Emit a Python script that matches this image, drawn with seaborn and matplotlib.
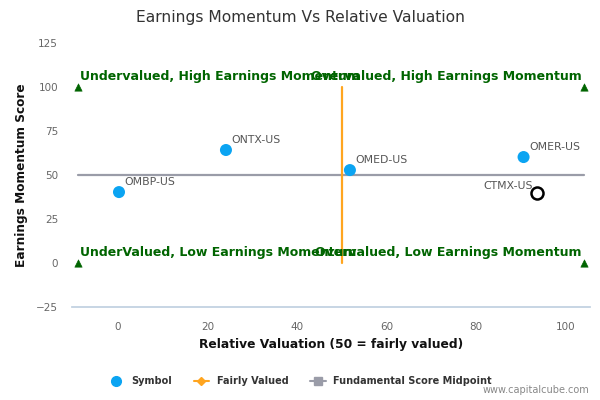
import pandas as pd
import seaborn as sns
import matplotlib.pyplot as plt
from matplotlib.lines import Line2D

# Peer symbols
symbols = ["OMBP-US", "ONTX-US", "OMED-US", "OMER-US"]
valuation = [0.2, 24.1, 51.8, 90.6]
momentum = [40.3, 64.2, 52.8, 60.2]

# Highlighted company (hollow marker)
focus_symbol = "CTMX-US"
focus_valuation = 93.7
focus_momentum = 39.8

# Reference lines
fair_x = [50, 50]
fair_y = [0, 100]
mid_x = [-9, 104]
mid_y = [50, 50]

# Quadrant corner markers
corner_x = [-9, -9, 104, 104]
corner_y = [100, 0, 100, 0]

quadrant_labels = ["Undervalued, High Earnings Momentum", "Overvalued, High Earnings Momentum",
                   "UnderValued, Low Earnings Momentum", "Overvalued, Low Earnings Momentum"]

x_ticks = [0, 20, 40, 60, 80, 100]
y_ticks = [-25, 0, 25, 50, 75, 100, 125]

sns.set_theme(style="white")
plt.rcParams["font.family"] = ["DejaVu Sans"]

blue = "#0ba4f2"
orange = "#ffa51f"
grey = "#9a9ca8"
green = "#006400"

fig = plt.figure(figsize=(6, 4), dpi=100)
ax = fig.add_axes([0.12, 0.2325, 0.863, 0.66])

pts = pd.DataFrame({"symbol": symbols, "x": valuation, "y": momentum})

sns.lineplot(x=mid_x, y=mid_y, color=grey, linewidth=1.6, ax=ax, zorder=1)
sns.lineplot(x=fair_x, y=fair_y, color=orange, linewidth=1.6, ax=ax, zorder=2,
             estimator=None, sort=False)
sns.scatterplot(x=corner_x, y=corner_y, marker="^", color=green, s=28, edgecolor=green, ax=ax, zorder=3)
sns.scatterplot(data=pts, x="x", y="y", color=blue, s=75, edgecolor="none", ax=ax, zorder=4)
sns.scatterplot(x=[focus_valuation], y=[focus_momentum], facecolor="white", edgecolor="black",
                linewidth=1.8, s=75, ax=ax, zorder=4)

for _, r in pts.iterrows():
    ax.annotate(r["symbol"], (r["x"], r["y"]), xytext=(4, 5), textcoords="offset points",
                fontsize=7.8, color="#555555")
ax.annotate(focus_symbol, (focus_valuation, focus_momentum), xytext=(-3, 3),
            textcoords="offset points", fontsize=7.8, color="#555555", ha="right")

lab_kw = dict(color=green, fontsize=9, fontweight="bold", va="bottom")
ax.text(-8.5, 102, quadrant_labels[0], ha="left", **lab_kw)
ax.text(103.5, 102, quadrant_labels[1], ha="right", **lab_kw)
ax.text(-8.5, 2, quadrant_labels[2], ha="left", **lab_kw)
ax.text(103.5, 2, quadrant_labels[3], ha="right", **lab_kw)

ax.set_xlim(-10.3, 105.4)
ax.set_ylim(-25, 125)
ax.set_xticks(x_ticks)
ax.set_yticks(y_ticks)
ax.tick_params(axis="both", labelsize=7.5, colors="#666666", length=0, pad=10)
ax.tick_params(axis="x", length=5, color="#c0d0e0", direction="out", pad=6)
for s in ["top", "right", "left"]:
    ax.spines[s].set_visible(False)
ax.spines["bottom"].set_color("#c0d0e0")
ax.set_xlabel("Relative Valuation (50 = fairly valued)", fontsize=8.8, fontweight="bold", color="#111111")
ax.set_ylabel("Earnings Momentum Score", fontsize=8.7, fontweight="bold", color="#111111", labelpad=6)

fig.suptitle("Earnings Momentum Vs Relative Valuation", x=0.5, y=0.975, fontsize=11.2, color="#333333")

handles = [
    Line2D([], [], marker="o", linestyle="none", color=blue, markersize=7),
    Line2D([], [], marker="D", color=orange, markersize=4.5, linewidth=1.5),
    Line2D([], [], marker="s", color=grey, markersize=5.5, linewidth=1.5),
]
leg = fig.legend(handles, ["Symbol", "Fairly Valued", "Fundamental Score Midpoint"], loc="center",
                 bbox_to_anchor=(0.5, 0.047), ncol=3, frameon=False, handlelength=1.6,
                 columnspacing=2.2, prop={"size": 7, "weight": "bold"})
for t in leg.get_texts():
    t.set_color("#333333")

fig.text(0.983, 0.012, "www.capitalcube.com", ha="right", va="bottom", fontsize=7, color="#888888")

fig.savefig("out.png", dpi=100)
